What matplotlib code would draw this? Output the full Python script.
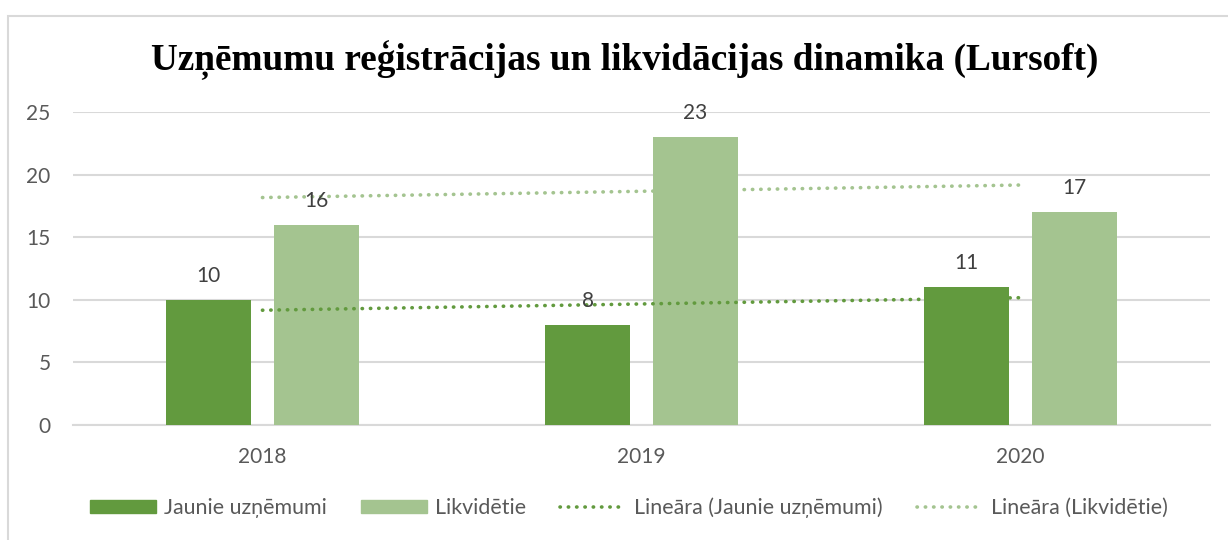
import numpy as np
import matplotlib
matplotlib.use("Agg")
import matplotlib.pyplot as plt
from matplotlib.patches import Rectangle
from matplotlib.lines import Line2D

categories = ["2018", "2019", "2020"]
jaunie = [10, 8, 11]
likvidetie = [16, 23, 17]
series_names = ["Jaunie uzņēmumi", "Likvidētie"]
trend_names = ["Lineāra (Jaunie uzņēmumi)", "Lineāra (Likvidētie)"]
title = "Uzņēmumu reģistrācijas un likvidācijas dinamika (Lursoft)"
yticks = [0, 5, 10, 15, 20, 25]

dark = "#629A3E"
light = "#A4C490"
text_gray = "#595959"
label_gray = "#404040"
grid_gray = "#D9D9D9"

plt.rcParams['font.family'] = ['Lato', 'DejaVu Sans']
FS = 15

fig = plt.figure(figsize=(12.28, 5.4), dpi=100)
ax = fig.add_axes([0.0594, 0.213, 0.9259, 0.5796])

x = np.arange(len(categories))
w = 0.224
off = 0.142
b1 = ax.bar(x - off, jaunie, width=w, color=dark, zorder=3)
b2 = ax.bar(x + off, likvidetie, width=w, color=light, zorder=3)

for bars, vals in ((b1, jaunie), (b2, likvidetie)):
    for r, v in zip(bars, vals):
        ax.annotate(str(v), (r.get_x() + r.get_width() / 2, v), xytext=(0, 10),
                    textcoords="offset points", ha="center", va="bottom",
                    fontsize=FS, color=label_gray, zorder=5)

# linear trendlines
for vals, col in ((jaunie, dark), (likvidetie, light)):
    k, b = np.polyfit(x, vals, 1)
    ax.plot(x, k * x + b, color=col, linestyle=(0, (0.1, 2.2)), linewidth=2.6,
            dash_capstyle="round", solid_capstyle="round", zorder=4)

ax.set_xlim(-0.5, 2.5)
ax.set_ylim(0, 25)
ax.set_yticks(yticks)
ax.set_xticks(x)
ax.set_xticklabels(categories)
ax.tick_params(axis="both", length=0, labelsize=FS, colors=text_gray)
ax.tick_params(axis="x", pad=16)
ax.tick_params(axis="y", pad=16)
ax.grid(axis="y", color=grid_gray, linewidth=1.5, zorder=0)
for s in ["top", "right", "left"]:
    ax.spines[s].set_visible(False)
ax.spines["bottom"].set_color(grid_gray)
ax.spines["bottom"].set_linewidth(1.5)
ax.spines["bottom"].set_zorder(1)

fig.text(0.509, 0.889, title, ha="center", va="center", fontsize=26.8,
         fontweight="bold", family=["Liberation Serif", "DejaVu Serif"], color="black")

handles = [Rectangle((0, 0), 1, 1, color=dark), Rectangle((0, 0), 1, 1, color=light),
           Line2D([], [], color=dark, linestyle=(0, (0.1, 2.2)), linewidth=2.6, dash_capstyle="round"),
           Line2D([], [], color=light, linestyle=(0, (0.1, 2.2)), linewidth=2.6, dash_capstyle="round")]
labels = series_names + trend_names
leg = fig.legend(handles, labels, loc="center", bbox_to_anchor=(0.512, 0.06), ncol=4,
                 frameon=False, fontsize=15.4, handlelength=3.1, handleheight=0.6,
                 columnspacing=1.6, handletextpad=0.35, labelcolor=text_gray)

fig.patches.append(Rectangle((8 / 1228, -0.1), 1.2, 1.1 - 16 / 540,
                             transform=fig.transFigure, fill=False,
                             edgecolor="#D9D9D9", linewidth=1.5))

fig.savefig("out.png", dpi=100, facecolor="white")
